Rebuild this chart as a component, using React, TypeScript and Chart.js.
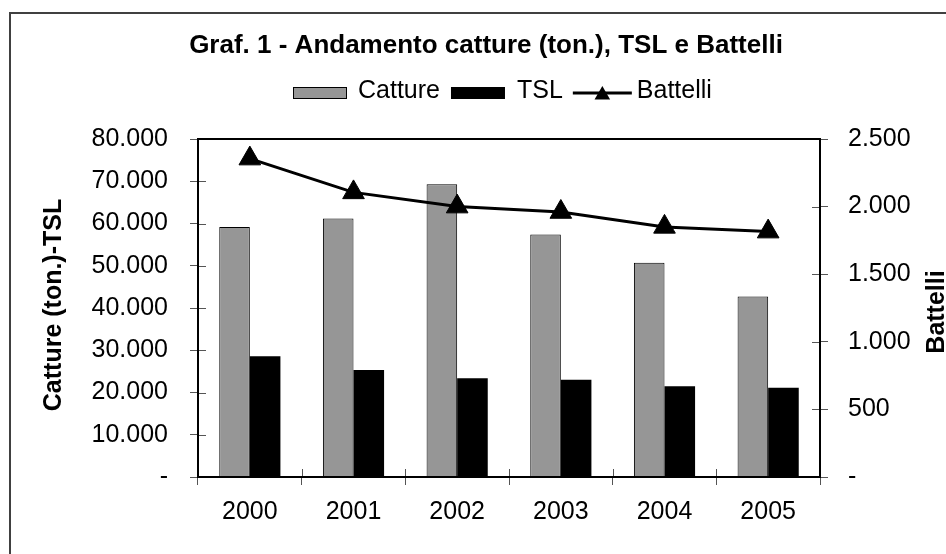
import React, { useEffect, useRef } from 'react';
import { Chart, registerables } from 'chart.js';

Chart.register(...registerables);

const FONT = '"Liberation Sans", Arial, Helvetica, sans-serif';

// ---- data ----
const titleText = 'Graf. 1 - Andamento catture (ton.), TSL e Battelli';
const leftAxisTitle = 'Catture (ton.)-TSL';
const rightAxisTitle = 'Battelli';
const years = ['2000', '2001', '2002', '2003', '2004', '2005'];
const catture = [59200, 61200, 69300, 57400, 50700, 42700];
const tsl = [28600, 25300, 23400, 23000, 21500, 21100];
const battelli = [2355, 2105, 2000, 1960, 1850, 1815];
const leftRange = [0, 80000];
const leftStep = 10000;
const rightRange = [0, 2500];
const rightStep = 500;

const fmt = (v: number) =>
  v === 0 ? '-' : Math.round(v).toString().replace(/\B(?=(\d{3})+(?!\d))/g, '.');

export default function App() {
  const ref = useRef<HTMLCanvasElement>(null);

  useEffect(() => {
    const canvas = ref.current;
    if (!canvas) return;

    const decor = {
      id: 'decor',
      beforeDraw(chart: any) {
        const ctx = chart.ctx;
        ctx.save();
        ctx.fillStyle = '#ffffff';
        ctx.fillRect(0, 0, chart.width, chart.height);
        ctx.strokeStyle = '#404040';
        ctx.lineWidth = 2;
        ctx.beginPath();
        ctx.moveTo(10, chart.height + 5);
        ctx.lineTo(10, 13);
        ctx.lineTo(chart.width + 5, 13);
        ctx.stroke();
        ctx.restore();
      },
      afterDraw(chart: any) {
        const ctx = chart.ctx;
        const a = chart.chartArea;
        const xs = chart.scales.x;
        const yl = chart.scales.y;
        const yr = chart.scales.y1;
        ctx.save();

        // inner halves of tick marks
        ctx.strokeStyle = '#555555';
        ctx.lineWidth = 1;
        ctx.beginPath();
        for (let i = 0; i <= years.length; i++) {
          const px = Math.round(xs.getPixelForValue(i - 0.5)) + 0.5;
          ctx.moveTo(px, a.bottom);
          ctx.lineTo(px, a.bottom - 8);
        }
        for (let v = leftRange[0]; v <= leftRange[1]; v += leftStep) {
          const py = Math.round(yl.getPixelForValue(v)) + 0.5;
          ctx.moveTo(a.left, py);
          ctx.lineTo(a.left + 8, py);
        }
        for (let v = rightRange[0]; v <= rightRange[1]; v += rightStep) {
          const py = Math.round(yr.getPixelForValue(v)) + 0.5;
          ctx.moveTo(a.right, py);
          ctx.lineTo(a.right - 8, py);
        }
        ctx.stroke();

        // plot box
        ctx.strokeStyle = '#000000';
        ctx.lineWidth = 2;
        ctx.strokeRect(a.left, a.top, a.right - a.left, a.bottom - a.top);

        // title
        ctx.fillStyle = '#000000';
        ctx.font = `bold 26px ${FONT}`;
        ctx.textAlign = 'center';
        ctx.textBaseline = 'alphabetic';
        ctx.fillText(titleText, 486, 53);

        // axis titles
        ctx.font = `bold 25px ${FONT}`;
        ctx.save();
        ctx.translate(61, 305);
        ctx.rotate(-Math.PI / 2);
        ctx.fillText(leftAxisTitle, 0, 0);
        ctx.restore();
        ctx.save();
        ctx.translate(944, 312);
        ctx.rotate(-Math.PI / 2);
        ctx.fillText(rightAxisTitle, 0, 0);
        ctx.restore();

        // legend
        const ds = chart.data.datasets;
        ctx.font = `25px ${FONT}`;
        ctx.textAlign = 'left';
        let x = 293;
        const by = 87;
        const bh = 12;
        const base = 98;
        // Catture
        ctx.fillStyle = ds[0].backgroundColor;
        ctx.fillRect(x, by, 54, bh);
        ctx.strokeStyle = '#000';
        ctx.lineWidth = 1;
        ctx.strokeRect(x + 0.5, by + 0.5, 53, bh - 1);
        x += 54 + 11;
        ctx.fillStyle = '#000';
        ctx.fillText(ds[0].label, x, base);
        x += ctx.measureText(ds[0].label).width + 11;
        // TSL
        ctx.fillStyle = ds[1].backgroundColor;
        ctx.fillRect(x, by, 54, bh);
        x += 54 + 12;
        ctx.fillStyle = '#000';
        ctx.fillText(ds[1].label, x, base);
        x += ctx.measureText(ds[1].label).width + 10;
        // Battelli
        ctx.strokeStyle = '#000';
        ctx.lineWidth = 3;
        ctx.beginPath();
        ctx.moveTo(x, 93);
        ctx.lineTo(x + 59, 93);
        ctx.stroke();
        const cx = x + 29.5;
        const cy = 95;
        const r = 9;
        ctx.fillStyle = '#000';
        ctx.beginPath();
        ctx.moveTo(cx, cy - r);
        ctx.lineTo(cx + r * 0.866, cy + r / 2);
        ctx.lineTo(cx - r * 0.866, cy + r / 2);
        ctx.closePath();
        ctx.fill();
        x += 59 + 5;
        ctx.fillText(ds[2].label, x, base);

        ctx.restore();
      },
    };

    const tickFont = { family: FONT, size: 25 };

    const chart = new Chart(canvas, {
      type: 'bar',
      data: {
        labels: years,
        datasets: [
          {
            type: 'bar',
            label: 'Catture',
            data: catture,
            backgroundColor: '#969696',
            borderColor: '#000000',
            borderWidth: 1,
            yAxisID: 'y',
            categoryPercentage: 0.59,
            barPercentage: 1.0,
            order: 1,
          },
          {
            type: 'bar',
            label: 'TSL',
            data: tsl,
            backgroundColor: '#000000',
            borderColor: '#000000',
            borderWidth: 0,
            yAxisID: 'y',
            categoryPercentage: 0.59,
            barPercentage: 1.0,
            order: 1,
          },
          {
            type: 'line',
            label: 'Battelli',
            data: battelli,
            borderColor: '#000000',
            backgroundColor: '#000000',
            borderWidth: 3,
            pointStyle: 'triangle',
            pointRadius: 12.5,
            pointBackgroundColor: '#000000',
            pointBorderColor: '#000000',
            pointBorderWidth: 1,
            tension: 0,
            fill: false,
            yAxisID: 'y1',
            order: 0,
          },
        ] as any,
      },
      options: {
        responsive: false,
        animation: false,
        devicePixelRatio: 1,
        layout: { padding: { top: 139, left: 0, right: 0, bottom: 0 } },
        plugins: {
          legend: { display: false },
          title: { display: false },
          tooltip: { enabled: false },
        },
        scales: {
          x: {
            type: 'category',
            offset: true,
            grid: {
              offset: true,
              drawOnChartArea: false,
              drawTicks: true,
              tickLength: 8,
              color: '#555555',
              tickColor: '#555555',
              lineWidth: 1,
            },
            border: { display: false },
            ticks: { font: tickFont, color: '#000000', padding: 12, maxRotation: 0, autoSkip: false },
            afterFit: (s: any) => {
              s.height = 77;
            },
          },
          y: {
            type: 'linear',
            position: 'left',
            min: leftRange[0],
            max: leftRange[1],
            grid: {
              drawOnChartArea: false,
              tickLength: 8,
              color: '#555555',
              tickColor: '#555555',
              lineWidth: 1,
            },
            border: { display: false },
            ticks: {
              stepSize: leftStep,
              font: tickFont,
              color: '#000000',
              padding: 22,
              callback: (v: any) => fmt(Number(v)),
            },
            afterFit: (s: any) => {
              s.width = 198;
            },
          },
          y1: {
            type: 'linear',
            position: 'right',
            min: rightRange[0],
            max: rightRange[1],
            grid: {
              drawOnChartArea: false,
              tickLength: 8,
              color: '#555555',
              tickColor: '#555555',
              lineWidth: 1,
            },
            border: { display: false },
            ticks: {
              stepSize: rightStep,
              font: tickFont,
              color: '#000000',
              padding: 20,
              callback: (v: any) => fmt(Number(v)),
            },
            afterFit: (s: any) => {
              s.width = 126;
            },
          },
        },
      } as any,
      plugins: [decor],
    });

    return () => {
      chart.destroy();
    };
  }, []);

  return (
    <div
      style={{
        position: 'fixed',
        left: 0,
        top: 0,
        width: 946,
        height: 554,
        overflow: 'hidden',
        background: '#ffffff',
      }}
    >
      <canvas ref={ref} width={946} height={554} style={{ display: 'block', width: 946, height: 554 }} />
    </div>
  );
}
